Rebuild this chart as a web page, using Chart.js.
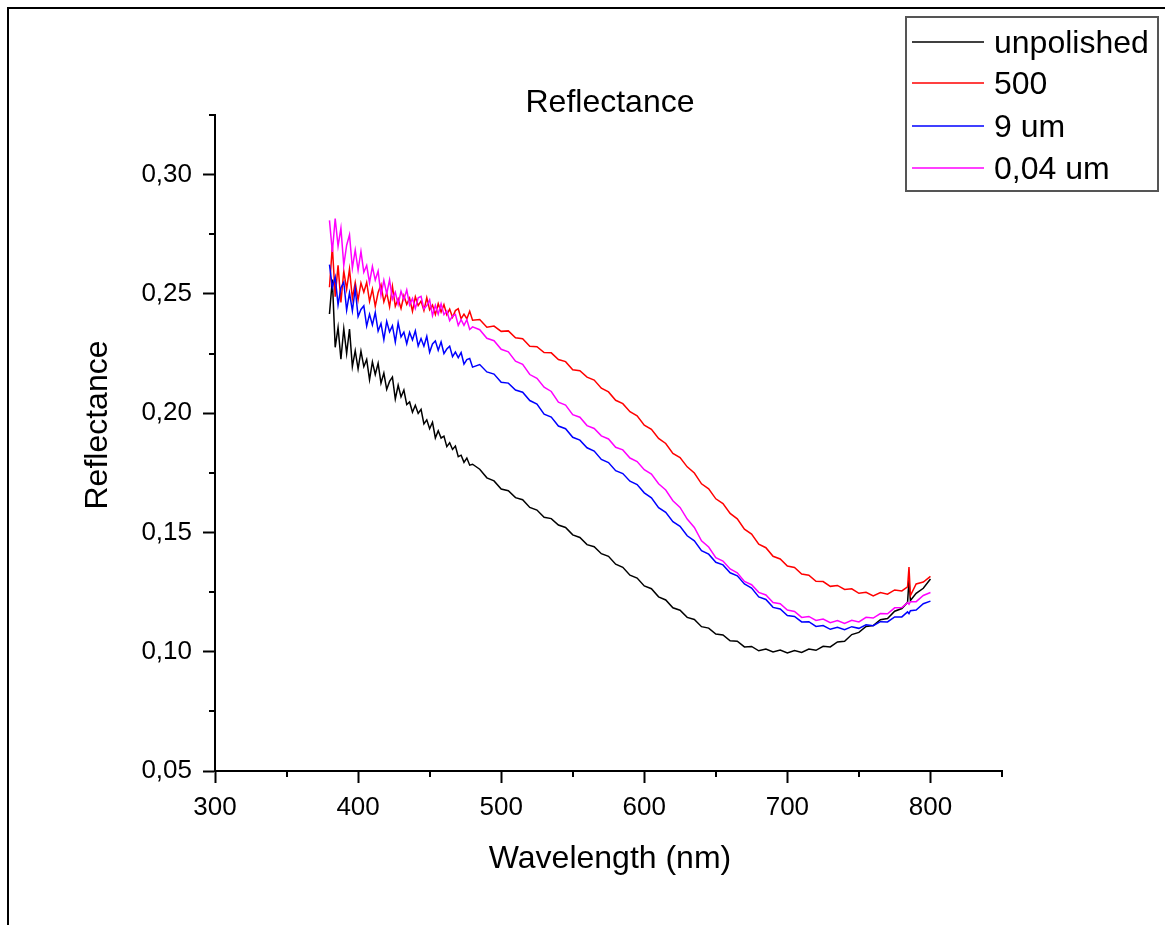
<!DOCTYPE html>
<html>
<head>
<meta charset="utf-8">
<script src="https://cdn.jsdelivr.net/npm/chart.js@4"></script>
<style>
  html, body { margin: 0; padding: 0; background: #fff; }
  #wrap { width: 1165px; height: 925px; position: relative; }
</style>
</head>
<body>
<div id="wrap"><canvas id="reflChart"></canvas></div>
<script>
/* ===== Reflectance spectra ===== */

const FONT = '"Liberation Sans", Arial, sans-serif';

const wavelength = [
  380, 382, 384, 386, 388, 390, 392, 394, 396, 398,
  400, 402, 404, 406, 408, 410, 412, 414, 416, 418,
  420, 422, 424, 426, 428, 430, 432, 434, 436, 438,
  440, 442, 444, 446, 448, 450, 452, 454, 456, 458,
  460, 462, 464, 466, 468, 470, 472, 474, 476, 478, 480,
  485, 490, 495, 500, 505, 510, 515, 520, 525, 530,
  535, 540, 545, 550, 555, 560, 565, 570, 575, 580,
  585, 590, 595, 600, 605, 610, 615, 620, 625, 630,
  635, 640, 645, 650, 655, 660, 665, 670, 675, 680,
  685, 690, 695, 700, 705, 710, 715, 720, 725, 730,
  735, 740, 745, 750, 755, 760, 765, 770, 775, 780,
  784, 785, 786, 790, 795, 800
];

const unpolished = [
  .2416, .2560, .2276, .2359, .2226, .2354, .2250, .2353, .2195, .2262,
  .2185, .2260, .2195, .2225, .2140, .2215, .2162, .2209, .2126, .2168,
  .2100, .2133, .2151, .2059, .2117, .2068, .2097, .2036, .2047, .2004,
  .2033, .1999, .2016, .1955, .1972, .1935, .1962, .1896, .1926, .1896,
  .1904, .1860, .1876, .1848, .1862, .1818, .1824, .1794, .1812, .1782, .1786,
  .1765, .1729, .1716, .1682, .1675, .1646, .1637, .1605, .1594, .1564,
  .1558, .1531, .1521, .1490, .1479, .1449, .1440, .1411, .1400, .1367,
  .1354, .1321, .1309, .1276, .1264, .1230, .1217, .1184, .1174, .1144,
  .1135, .1105, .1099, .1074, .1070, .1046, .1044, .1020, .1022, .1004,
  .1011, .0999, .1007, .0995, .1005, .0997, .1011, .1006, .1023, .1020,
  .1041, .1044, .1072, .1081, .1106, .1110, .1134, .1139, .1170, .1181,
  .1207, .1300, .1215, .1245, .1266, .1305
];

const grit500 = [
  .2528, .2700, .2488, .2620, .2464, .2596, .2520, .2604, .2480, .2548,
  .2475, .2546, .2507, .2548, .2469, .2520, .2448, .2506, .2539, .2467,
  .2505, .2446, .2532, .2448, .2479, .2439, .2493, .2456, .2482, .2427,
  .2488, .2451, .2470, .2430, .2484, .2433, .2453, .2414, .2459, .2424,
  .2455, .2413, .2436, .2402, .2430, .2438, .2396, .2415, .2396, .2427, .2390,
  .2393, .2360, .2365, .2343, .2345, .2316, .2312, .2281, .2279, .2254,
  .2253, .2225, .2216, .2182, .2178, .2151, .2139, .2105, .2089, .2054,
  .2040, .2006, .1989, .1950, .1932, .1894, .1873, .1831, .1814, .1775,
  .1749, .1704, .1683, .1641, .1621, .1580, .1557, .1514, .1493, .1451,
  .1436, .1400, .1389, .1359, .1353, .1326, .1321, .1295, .1294, .1274,
  .1278, .1261, .1264, .1245, .1249, .1234, .1248, .1241, .1259, .1255,
  .1272, .1355, .1235, .1284, .1292, .1316
];

const um9 = [
  .2623, .2527, .2571, .2454, .2526, .2549, .2432, .2504, .2429, .2522,
  .2405, .2435, .2450, .2365, .2415, .2370, .2422, .2344, .2376, .2308,
  .2385, .2341, .2367, .2298, .2379, .2320, .2340, .2291, .2339, .2307,
  .2345, .2282, .2313, .2281, .2322, .2255, .2290, .2303, .2264, .2299,
  .2250, .2269, .2281, .2237, .2256, .2233, .2254, .2206, .2225, .2229, .2193,
  .2204, .2173, .2164, .2130, .2126, .2097, .2088, .2053, .2038, .1996,
  .1984, .1946, .1935, .1899, .1887, .1855, .1841, .1806, .1793, .1759,
  .1747, .1715, .1701, .1666, .1645, .1604, .1584, .1545, .1526, .1486,
  .1465, .1424, .1409, .1375, .1364, .1331, .1318, .1284, .1267, .1230,
  .1219, .1186, .1179, .1152, .1148, .1125, .1126, .1106, .1110, .1094,
  .1102, .1092, .1105, .1098, .1113, .1109, .1126, .1125, .1146, .1146,
  .1167, .1160, .1172, .1175, .1201, .1212
];

const um004 = [
  .2808, .2676, .2816, .2700, .2776, .2620, .2704, .2748, .2608, .2684,
  .2600, .2678, .2591, .2619, .2547, .2615, .2558, .2596, .2494, .2557,
  .2500, .2559, .2478, .2507, .2456, .2511, .2476, .2517, .2454, .2481,
  .2439, .2484, .2490, .2437, .2451, .2475, .2409, .2452, .2415, .2458,
  .2413, .2429, .2388, .2407, .2414, .2368, .2392, .2368, .2392, .2351, .2362,
  .2350, .2314, .2304, .2268, .2257, .2218, .2205, .2162, .2146, .2109,
  .2091, .2046, .2034, .1994, .1983, .1948, .1936, .1905, .1892, .1857,
  .1846, .1812, .1797, .1763, .1745, .1704, .1678, .1633, .1605, .1556,
  .1521, .1465, .1439, .1394, .1380, .1347, .1331, .1295, .1281, .1249,
  .1238, .1206, .1201, .1175, .1169, .1144, .1148, .1131, .1137, .1122,
  .1131, .1119, .1132, .1125, .1144, .1141, .1160, .1159, .1184, .1185,
  .1206, .1199, .1210, .1210, .1236, .1248
];

const seriesNames = ['unpolished', '500', '9 um', '0,04 um'];
const seriesColors = ['#000000', '#ff0000', '#0000ff', '#ff00ff'];
const seriesValues = [unpolished, grit500, um9, um004];

const xMinorTicks = [350, 450, 550, 650, 750, 850];
const yMinorTicks = [0.075, 0.125, 0.175, 0.225, 0.275, 0.325];

// frame, titles, legend box and minor ticks
const decorPlugin = {
  id: 'decor',
  afterDraw(chart) {
    const ctx = chart.ctx;
    const xs = chart.scales.x, ys = chart.scales.y;
    const area = chart.chartArea;
    ctx.save();

    // outer frame (left + top)
    ctx.strokeStyle = '#000';
    ctx.lineWidth = 2;
    ctx.beginPath();
    ctx.moveTo(8, 925);
    ctx.lineTo(8, 8);
    ctx.lineTo(1165, 8);
    ctx.stroke();

    // minor ticks
    ctx.lineWidth = 2;
    ctx.beginPath();
    xMinorTicks.forEach(v => {
      const px = Math.round(xs.getPixelForValue(v));
      ctx.moveTo(px, area.bottom);
      ctx.lineTo(px, area.bottom + 6);
    });
    yMinorTicks.forEach(v => {
      const py = Math.round(ys.getPixelForValue(v));
      ctx.moveTo(area.left, py);
      ctx.lineTo(area.left - 6, py);
    });
    ctx.stroke();

    // titles
    ctx.fillStyle = '#000';
    ctx.font = '32px ' + FONT;
    ctx.textAlign = 'center';
    ctx.textBaseline = 'alphabetic';
    ctx.fillText('Reflectance', 610, 112);
    ctx.fillText('Wavelength (nm)', 610, 868);

    ctx.save();
    ctx.translate(107, 425);
    ctx.rotate(-Math.PI / 2);
    ctx.fillText('Reflectance', 0, 0);
    ctx.restore();

    // legend
    ctx.strokeStyle = '#555';
    ctx.lineWidth = 2;
    ctx.strokeRect(906, 17, 252, 174);
    const rows = [42, 83, 126, 168];
    ctx.textAlign = 'left';
    ctx.textBaseline = 'middle';
    seriesNames.forEach((name, i) => {
      ctx.strokeStyle = seriesColors[i];
      ctx.lineWidth = 1.5;
      ctx.beginPath();
      ctx.moveTo(912, rows[i]);
      ctx.lineTo(984, rows[i]);
      ctx.stroke();
      ctx.fillStyle = '#000';
      ctx.fillText(name, 994, rows[i] + 2);
    });

    ctx.restore();
  }
};

const datasets = seriesValues.map((vals, i) => ({
  label: seriesNames[i],
  data: wavelength.map((w, k) => ({ x: w, y: vals[k] })),
  borderColor: seriesColors[i],
  backgroundColor: seriesColors[i],
  borderWidth: 1.5,
  pointRadius: 0,
  tension: 0,
  fill: false,
  order: seriesValues.length - i
}));

new Chart(document.getElementById('reflChart').getContext('2d'), {
  type: 'line',
  data: { datasets },
  options: {
    responsive: true,
    maintainAspectRatio: false,
    animation: false,
    layout: { padding: { top: 115, right: 163, left: 0, bottom: 0 } },
    plugins: {
      legend: { display: false },
      title: { display: false },
      tooltip: { enabled: false }
    },
    scales: {
      x: {
        type: 'linear',
        min: 300,
        max: 850,
        afterFit: s => { s.height = 154; },
        border: { display: true, color: '#000', width: 2 },
        grid: { drawOnChartArea: false, drawTicks: true, tickLength: 12, tickColor: '#000', tickWidth: 2 },
        ticks: {
          stepSize: 100,
          includeBounds: false,
          maxRotation: 0,
          color: '#000',
          padding: 9,
          font: { family: FONT, size: 26 }
        }
      },
      y: {
        type: 'linear',
        min: 0.05,
        max: 0.325,
        afterFit: s => { s.width = 215; },
        border: { display: true, color: '#000', width: 2 },
        grid: { drawOnChartArea: false, drawTicks: true, tickLength: 12, tickColor: '#000', tickWidth: 2 },
        ticks: {
          stepSize: 0.05,
          includeBounds: false,
          color: '#000',
          padding: 11,
          font: { family: FONT, size: 26 },
          callback: v => v.toFixed(2).replace('.', ',')
        }
      }
    }
  },
  plugins: [decorPlugin]
});
</script>
</body>
</html>
